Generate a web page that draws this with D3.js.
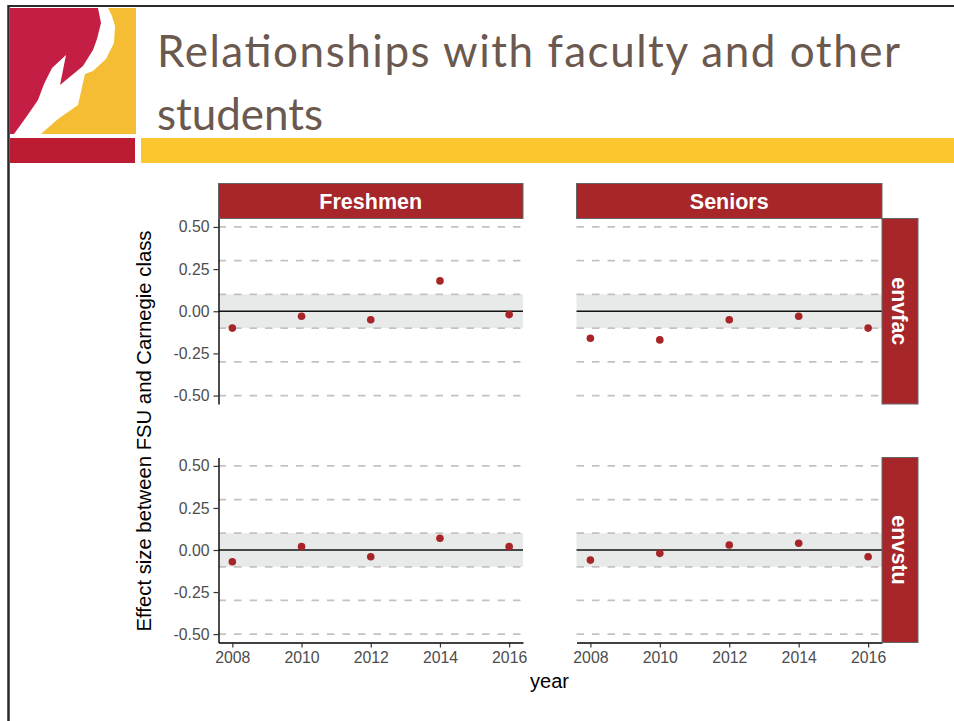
<!DOCTYPE html>
<html>
<head>
<meta charset="utf-8">
<script src="https://cdn.jsdelivr.net/npm/d3@7"></script>
<style>
  body { margin: 0; background: #fff; }
  svg { display: block; }
</style>
</head>
<body>
<div id="slide"></div>
<script>
// chart data
var years = [2008, 2010, 2012, 2014, 2016];
var groups = ["Freshmen", "Seniors"];
var measures = ["envfac", "envstu"];
var envfacFreshmen = [-0.10, -0.03, -0.05, 0.18, -0.02];
var envfacSeniors = [-0.16, -0.17, -0.05, -0.03, -0.10];
var envstuFreshmen = [-0.07, 0.02, -0.04, 0.07, 0.02];
var envstuSeniors = [-0.06, -0.02, 0.03, 0.04, -0.04];
var yTicks = [-0.5, -0.25, 0, 0.25, 0.5];
var dashLines = [-0.5, -0.3, -0.1, 0.1, 0.3, 0.5];
var band = [-0.1, 0.1];

var values = {
	envfac: { Freshmen: envfacFreshmen, Seniors: envfacSeniors },
	envstu: { Freshmen: envstuFreshmen, Seniors: envstuSeniors }
};

var W = 954, H = 721;
var stripColor = "#a6262a", pointColor = "#a72428";

var svg = d3.select("#slide").append("svg")
	.attr("width", W)
	.attr("height", H);

/* ------- SLIDE DECORATION -------*/

svg.append("rect").attr("x", 10).attr("y", 8).attr("width", 126).attr("height", 126).attr("fill", "#fff");
svg.append("path")
	.attr("fill", "#c41e45")
	.attr("d", "M10,8 L98,8 L101,23 L97,39 L93,50 L83,66 L60,85 L66,55 L52,68 L44,84 L38,100 L27,116 L14,134 L10,134 Z");
svg.append("path")
	.attr("fill", "#f4bd33")
	.attr("d", "M108,8 L136,8 L136,134 L41,134 L58,119 L78,105 L85,74 L93,71 L106,59 L114,43 L115,26 L112,16 Z");
svg.append("rect").attr("x", 10).attr("y", 138).attr("width", 125).attr("height", 25).attr("fill", "#bc1c32");
svg.append("rect").attr("x", 141).attr("y", 138).attr("width", W - 141).attr("height", 25).attr("fill", "#fbc72e");

svg.append("line").attr("x1", 8).attr("x2", W).attr("y1", 6).attr("y2", 6)
	.attr("stroke", "#2a2a2a").attr("stroke-width", 2);
svg.append("line").attr("x1", 8.5).attr("x2", 8.5).attr("y1", 5).attr("y2", H)
	.attr("stroke", "#2a2a2a").attr("stroke-width", 2.5);

var title = svg.append("g")
	.style("font-family", "Lato, 'Open Sans', sans-serif")
	.style("font-size", "44px")
	.attr("fill", "#6b5950");
title.append("text").attr("x", 157).attr("y", 67)
	.attr("textLength", 743).attr("lengthAdjust", "spacing")
	.text("Relationships with faculty and other");
title.append("text").attr("x", 157).attr("y", 130)
	.attr("textLength", 166).attr("lengthAdjust", "spacing")
	.text("students");

/* ------- FACETS -------*/

var colRange = { Freshmen: [218.5, 523], Seniors: [576.5, 882] };
var rowRange = { envfac: [404, 218.5], envstu: [642.5, 457.5] };

var font = "'Liberation Sans', Arial, sans-serif";

measures.forEach(function(m, ri) {
	groups.forEach(function(gname, ci) {
		var x = d3.scaleLinear().domain([2007.6, 2016.4]).range(colRange[gname]);
		var y = d3.scaleLinear().domain([-0.55, 0.55]).range(rowRange[m]);
		var panel = svg.append("g").attr("class", "panel");

		panel.append("rect")
			.attr("x", x.range()[0])
			.attr("width", x.range()[1] - x.range()[0])
			.attr("y", y(band[1]))
			.attr("height", y(band[0]) - y(band[1]))
			.attr("fill", "#e8e9e9");

		panel.selectAll("line.dash")
			.data(dashLines)
			.enter().append("line")
			.attr("class", "dash")
			.attr("x1", x.range()[0]).attr("x2", x.range()[1])
			.attr("y1", function(d) { return y(d); })
			.attr("y2", function(d) { return y(d); })
			.attr("stroke", "#c2c2c2")
			.attr("stroke-width", 1.7)
			.attr("stroke-dasharray", "7.5,8");

		panel.append("line")
			.attr("x1", x.range()[0]).attr("x2", x.range()[1])
			.attr("y1", y(0)).attr("y2", y(0))
			.attr("stroke", "#111").attr("stroke-width", 1.6);

		var vals = values[m][gname];
		panel.selectAll("circle")
			.data(years)
			.enter().append("circle")
			.attr("cx", function(d) { return x(d); })
			.attr("cy", function(d, i) { return y(vals[i]); })
			.attr("r", 3.8)
			.attr("fill", pointColor);

		// y axis only on left column
		if (ci == 0) {
			var ya = panel.append("g")
				.attr("transform", "translate(" + x.range()[0] + ",0)")
				.call(d3.axisLeft(y).tickValues(yTicks).tickSize(5).tickSizeOuter(0).tickPadding(4)
					.tickFormat(function(d) { return d.toFixed(2); }));
			ya.select(".domain").attr("stroke", "#000").attr("stroke-width", 1.4);
			ya.selectAll(".tick line").attr("stroke", "#333").attr("stroke-width", 1.2);
			ya.selectAll("text").attr("fill", "#4d4d4d").style("font-family", font).style("font-size", "15.8px");
		}
		// x axis only on bottom row
		if (ri == measures.length - 1) {
			var xa = panel.append("g")
				.attr("transform", "translate(0," + y.range()[0] + ")")
				.call(d3.axisBottom(x).tickValues(years).tickSize(5).tickSizeOuter(0).tickPadding(4)
					.tickFormat(d3.format("d")));
			xa.select(".domain").attr("stroke", "#000").attr("stroke-width", 1.4);
			xa.selectAll(".tick line").attr("stroke", "#333").attr("stroke-width", 1.2);
			xa.selectAll("text").attr("fill", "#4d4d4d").style("font-family", font).style("font-size", "15.8px");
		}

		// column strips on top row
		if (ri == 0) {
			var sx0 = x.range()[0], sx1 = x.range()[1];
			panel.append("rect")
				.attr("x", sx0).attr("y", 183.5)
				.attr("width", sx1 - sx0).attr("height", 35)
				.attr("fill", stripColor).attr("stroke", "#666").attr("stroke-width", 1);
			panel.append("text")
				.attr("x", (sx0 + sx1) / 2).attr("y", 201)
				.attr("text-anchor", "middle").attr("dy", "0.36em")
				.attr("fill", "#fff")
				.style("font-family", font).style("font-weight", "bold").style("font-size", "21.5px")
				.text(gname);
		}
		// row strips on right column
		if (ci == groups.length - 1) {
			var sy0 = y.range()[1], sy1 = y.range()[0];
			panel.append("rect")
				.attr("x", 882).attr("y", sy0)
				.attr("width", 36).attr("height", sy1 - sy0)
				.attr("fill", stripColor).attr("stroke", "#666").attr("stroke-width", 1);
			panel.append("text")
				.attr("transform", "translate(900," + ((sy0 + sy1) / 2) + ") rotate(90)")
				.attr("text-anchor", "middle").attr("dy", "0.36em")
				.attr("fill", "#fff")
				.style("font-family", font).style("font-weight", "bold").style("font-size", "21.5px")
				.text(m);
		}
	});
});

/* ------- AXIS TITLES -------*/

svg.append("text")
	.attr("x", 549.5).attr("y", 688)
	.attr("text-anchor", "middle")
	.style("font-family", font).style("font-size", "20px")
	.attr("fill", "#000")
	.text("year");

svg.append("text")
	.attr("transform", "translate(151,431) rotate(-90)")
	.attr("text-anchor", "middle")
	.style("font-family", font).style("font-size", "20.3px")
	.attr("fill", "#000")
	.text("Effect size between FSU and Carnegie class");
</script>
</body>
</html>
